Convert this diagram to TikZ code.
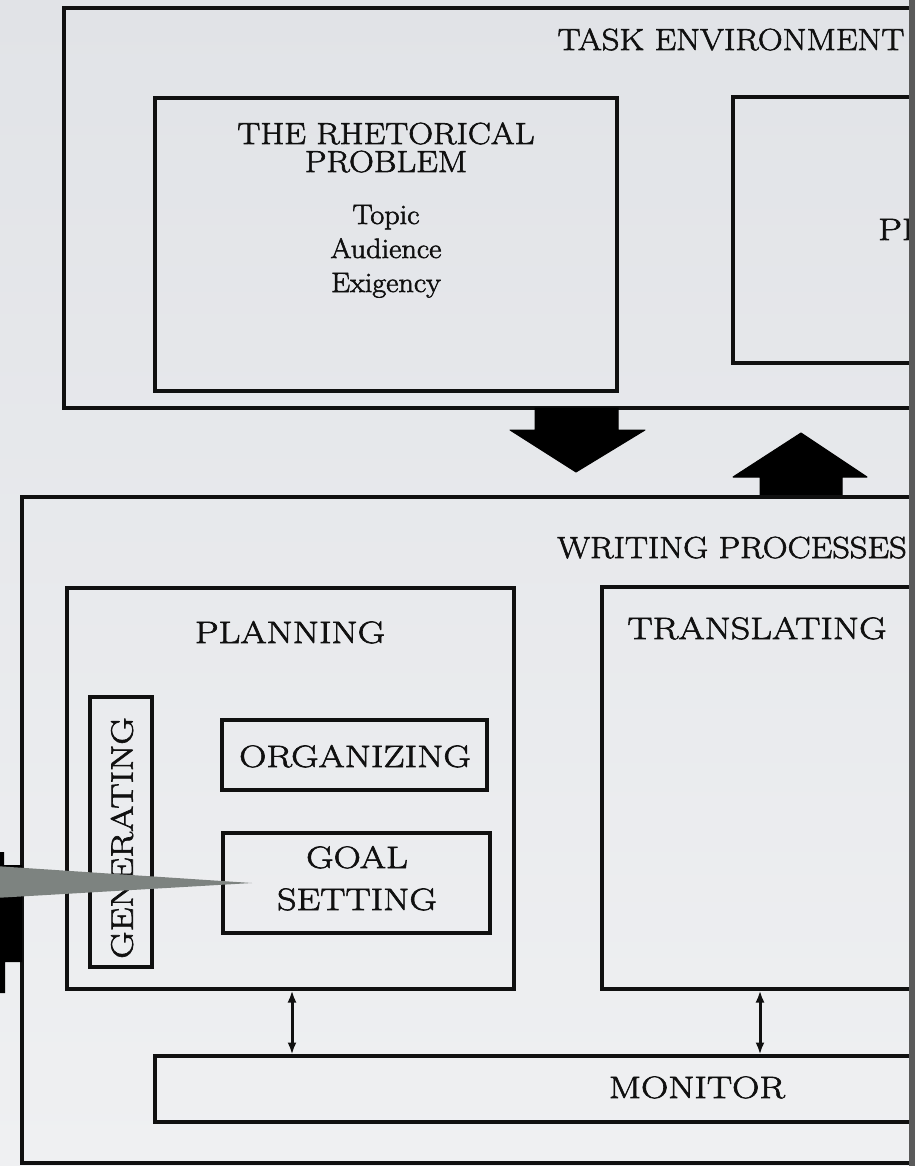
\documentclass[tikz,border=0pt]{standalone}
\usepackage{fontspec}
\usetikzlibrary{arrows.meta}
\newfontfamily\titlefont{Latin Modern Roman}[FakeStretch=1.13, FakeBold=2]
\newfontfamily\innerfont{Latin Modern Roman}[FakeStretch=1.22, FakeBold=2]
\newfontfamily\lowfont{Latin Modern Roman}[FakeStretch=1.08, FakeBold=2]
\definecolor{bgtop}{HTML}{E1E3E7}
\definecolor{bgbot}{HTML}{EFF0F2}
\definecolor{wedge}{HTML}{7D8380}
\definecolor{ink}{HTML}{101010}
\definecolor{edgegray}{HTML}{5A5A5A}
\newcommand\bx[5]{\node[boxst, minimum width={#4-#2}, minimum height={#5-#3}] (#1) at ({(#2+#4)/2},{(#3+#5)/2}) {};}
\begin{document}
\begin{tikzpicture}[x=1pt,y=-1pt,
  boxst/.style={draw=ink, line width=3.2pt, inner sep=0pt, outer sep=0pt},
  captext/.style={anchor=base, inner sep=0pt, text=ink, font=\innerfont\fontsize{31}{37}\selectfont},
  bigcaptext/.style={anchor=base, inner sep=0pt, text=ink, font=\titlefont\fontsize{30.5}{36}\selectfont},
  lowtext/.style={anchor=base, inner sep=0pt, text=ink, font=\lowfont\fontsize{28}{34}\selectfont},
  blockarrow/.style={fill=black, draw=black, line width=1pt, line join=round},
  dbl/.style={draw=ink, line width=3pt, {Latex[length=12pt,width=9pt]}-{Latex[length=12pt,width=9pt]}, shorten <=1.5pt, shorten >=1.5pt}]
\useasboundingbox (0,0) rectangle (915,1166);
\shade[top color=bgtop, bottom color=bgbot] (0,0) rectangle (915,1166);
\begin{scope}
\clip (0,0) rectangle (909,1166);
% task environment
\bx{taskenv}{64}{8}{980}{408}
\node[bigcaptext] (tasklbl) at (731,50) {TASK ENVIRONMENT};
\bx{rhet}{155}{98}{617}{391}
\node[bigcaptext] (rh1) at (386,144) {THE RHETORICAL};
\node[bigcaptext] (rh2) at (386,172) {PROBLEM};
\node[lowtext] (topic) at (386,224) {Topic};
\node[lowtext] (aud) at (386,258) {Audience};
\node[lowtext] (exi) at (386,292) {Exigency};
\bx{textbox}{733}{97}{980}{363}
\node[captext, anchor=base west] (pr) at (878,240) {PR};
% block arrows
\filldraw[blockarrow] (535,408) -- (618,408) -- (618,430) -- (645,430) -- (576,472) -- (510,430) -- (535,430) -- cycle;
\filldraw[blockarrow] (760,497) -- (842,497) -- (842,477) -- (867,477) -- (801,433) -- (733,477) -- (760,477) -- cycle;
% writing processes
\bx{writing}{22}{497}{980}{1163}
\node[bigcaptext] (wplbl) at (732,558) {WRITING PROCESSES};
\bx{planning}{67}{588}{514}{989}
\node[captext] (planlbl) at (290,643) {PLANNING};
\bx{translating}{602}{587}{980}{989}
\node[captext] (translbl) at (757,639) {TRANSLATING};
\bx{generating}{90}{697}{152}{967}
\node[inner sep=0pt, text=ink, font=\innerfont\fontsize{31}{37}\selectfont, rotate=90] (genlbl) at (122,838) {GENERATING};
\bx{organizing}{222}{720}{487}{790}
\node[captext] (orglbl) at (355,767) {ORGANIZING};
\bx{goal}{223}{833}{490}{933}
\node[captext] (goal1) at (357,868) {GOAL};
\node[captext] (goal2) at (357,910) {SETTING};
\bx{monitor}{155}{1056}{980}{1122}
\node[captext] (monlbl) at (697,1098) {MONITOR};
% monitor connectors
\coordinate (m1) at (292,0);
\coordinate (m2) at (760,0);
\draw[dbl] (planning.south -| m1) -- (monitor.north -| m1);
\draw[dbl] (translating.south -| m2) -- (monitor.north -| m2);
% partial black arrow at left
\fill[black] (-2,852) -- (4,852) -- (4,865) -- (22,865) -- (22,962) -- (5,962) -- (5,993) -- (-2,993) -- cycle;
% gray pointer
\coordinate (tip) at (252,883);
\fill[wedge] (-5,866) -- (tip) -- (-5,898) -- cycle;
\end{scope}
\fill[edgegray] (909,0) rectangle (915,1166);
\end{tikzpicture}
\end{document}
